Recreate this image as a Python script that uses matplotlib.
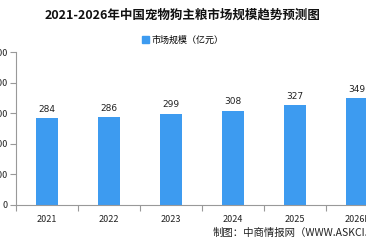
import matplotlib
matplotlib.use("Agg")
import matplotlib.pyplot as plt
from matplotlib.patches import Patch

plt.rcParams['font.family'] = ['Noto Sans CJK SC', 'DejaVu Sans']

categories = ["2021", "2022", "2023", "2024", "2025", "2026E"]
values = [284, 286, 299, 308, 327, 349]
yticks = [0, 100, 200, 300, 400, 500]
title = "2021-2026年中国宠物狗主粮市场规模趋势预测图"
legend_label = "市场规模（亿元）"
source = "制图：中商情报网（WWW.ASKCI.COM）"

W, H = 366, 248
fig = plt.figure(figsize=(W / 100, H / 100), dpi=100)
left, right, bottom, top = 16, 388, 205, 52
ax = fig.add_axes([left / W, 1 - bottom / H, (right - left) / W, (bottom - top) / H])

color = "#3d9bf0"
x = list(range(len(categories)))
ax.bar(x, values, width=0.36, color=color)
for xi, v in zip(x, values):
    ax.text(xi, v + 14, str(v), ha="center", va="bottom", fontsize=6.5, color="#222222",
            family="DejaVu Sans")

ax.set_xlim(-0.5, len(categories) - 0.5)
ax.set_ylim(0, 500)
ax.set_yticks(yticks)
ax.set_yticklabels([str(t) for t in yticks], fontsize=6.5, color="#222222")
ax.set_xticks(x)
ax.set_xticklabels(categories, fontsize=6.5, color="#222222")
ax.tick_params(axis="x", length=0, pad=7)
ax.set_xticks([i - 0.5 for i in range(len(categories) + 1)], minor=True)
ax.tick_params(axis="x", which="minor", length=4, color="#999999", width=0.8)
ax.tick_params(axis="y", length=4, color="#999999", width=0.8, pad=2)
for s in ["top", "right"]:
    ax.spines[s].set_visible(False)
for s in ["left", "bottom"]:
    ax.spines[s].set_color("#999999")
    ax.spines[s].set_linewidth(0.8)

fig.text(183 / W, 1 - 15 / H, title, ha="center", va="center", fontsize=9,
         fontweight="bold", color="#111111")
fig.legend(handles=[Patch(color=color, label=legend_label)], loc="center",
           bbox_to_anchor=(183 / W, 1 - 40 / H), frameon=False, fontsize=6.5,
           handlelength=0.8, handleheight=0.8, handletextpad=0.3)
fig.text(213 / W, 1 - 233 / H, source, ha="left", va="center", fontsize=7.5,
         color="#222222")

fig.savefig("out.png", dpi=100)
